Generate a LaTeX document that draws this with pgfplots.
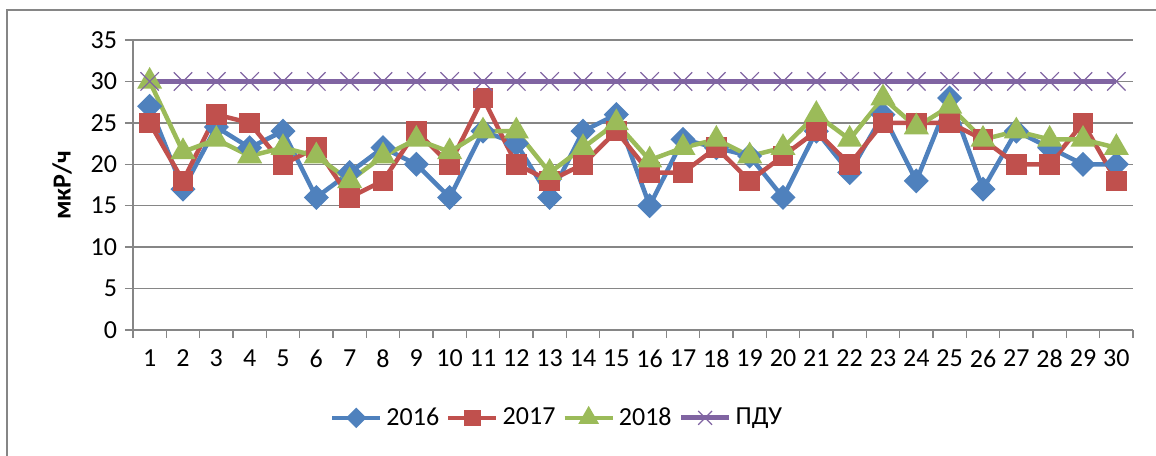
\documentclass[border=0pt]{standalone}
\usepackage{pgfplots}
\pgfplotsset{compat=1.18}
\usepackage{fontspec}
\setmainfont{Carlito}

\definecolor{c16}{HTML}{4F81BD}
\definecolor{c17}{HTML}{C0504D}
\definecolor{c18}{HTML}{9BBB59}
\definecolor{cpdu}{HTML}{8064A2}
\definecolor{gridgray}{HTML}{868686}

\begin{document}
\begin{tikzpicture}
% page: 1 px of the reference = 0.5pt
\useasboundingbox (0,0) rectangle (578pt,-227.5pt);
\begin{scope}
  \clip (0,0) rectangle (578pt,-227.5pt);
  \draw[gridgray, line width=0.75pt] (3.5pt,-5pt) rectangle (590pt,-240pt);
\end{scope}

\begin{axis}[
  at={(66.5pt,-165pt)}, anchor=south west,
  scale only axis, width=500pt, height=145pt,
  xmin=0.5, xmax=30.5, ymin=0, ymax=35,
  axis lines*=left,
  axis line style={gridgray, line width=0.75pt},
  xtick={1,...,30},
  minor xtick={0.5,1.5,...,30.5},
  ytick={0,5,...,35},
  tick align=outside,
  major tick length=4pt,
  x tick style={draw=none},
  minor x tick style={draw=gridgray, line width=0.75pt},
  minor tick length=4pt,
  y tick style={gridgray, line width=0.75pt},
  ymajorgrids,
  major grid style={gridgray, line width=0.75pt},
  font=\fontsize{13pt}{15pt}\selectfont,
  /pgf/number format/assume math mode=true,
  xticklabel style={yshift=-2.5pt},
  yticklabel style={xshift=-0.5pt},
  ylabel={\textbf{мкР/ч}},
  every axis y label/.style={at={(axis description cs:-0.071,0.5)}, rotate=90, anchor=center},
  legend columns=4,
  legend style={at={(axis description cs:0.425,-0.303)}, anchor=center, draw=none,
    font=\fontsize{13pt}{15pt}\selectfont,
    /tikz/every even column/.append style={column sep=1.5pt},
    inner sep=0pt},
  legend image code/.code={\draw[mark repeat=2, mark phase=2,
    mark size=0.75\pgfplotmarksize]
    plot coordinates {(0pt,0pt) (12pt,0pt) (24pt,0pt)};},
]
\addplot[c16, line width=2.25pt, mark=square*, mark size=3.3pt,
  mark options={solid, rotate=45, fill=c16, draw=none}] coordinates {
(1,27) (2,17) (3,24.5) (4,22) (5,24) (6,16) (7,19) (8,22) (9,20) (10,16)
(11,24) (12,22.5) (13,16) (14,24) (15,26) (16,15) (17,23) (18,22) (19,21) (20,16)
(21,24) (22,19) (23,26) (24,18) (25,28) (26,17) (27,24) (28,22) (29,20) (30,20)};
\addlegendentry{2016}
\addplot[c17, line width=2.25pt, mark=square*, mark size=4pt,
  mark options={solid, fill=c17, draw=none}] coordinates {
(1,25) (2,18) (3,26) (4,25) (5,20) (6,22) (7,16) (8,18) (9,24) (10,20)
(11,28) (12,20) (13,18) (14,20) (15,24) (16,19) (17,19) (18,22) (19,18) (20,21)
(21,24) (22,20) (23,25) (24,25) (25,25) (26,23) (27,20) (28,20) (29,25) (30,18)};
\addlegendentry{2017}
\addplot[c18, line width=2.25pt, mark=triangle*, mark size=5pt,
  mark options={solid, fill=c18, draw=none}] coordinates {
(1,30) (2,21.5) (3,23) (4,21) (5,22) (6,21) (7,18) (8,21) (9,23) (10,21.5)
(11,24) (12,24) (13,19) (14,22) (15,25) (16,20.5) (17,22) (18,23) (19,21) (20,22)
(21,26) (22,23) (23,28) (24,24.5) (25,27) (26,23) (27,24) (28,23) (29,23) (30,22)};
\addlegendentry{2018}
\addplot[cpdu, line width=2.5pt, mark=x, mark size=6.5pt,
  mark options={solid, line width=0.6pt}] coordinates {
(1,30) (2,30) (3,30) (4,30) (5,30) (6,30) (7,30) (8,30) (9,30) (10,30)
(11,30) (12,30) (13,30) (14,30) (15,30) (16,30) (17,30) (18,30) (19,30) (20,30)
(21,30) (22,30) (23,30) (24,30) (25,30) (26,30) (27,30) (28,30) (29,30) (30,30)};
\addlegendentry{ПДУ}
\end{axis}
\end{tikzpicture}
\end{document}
